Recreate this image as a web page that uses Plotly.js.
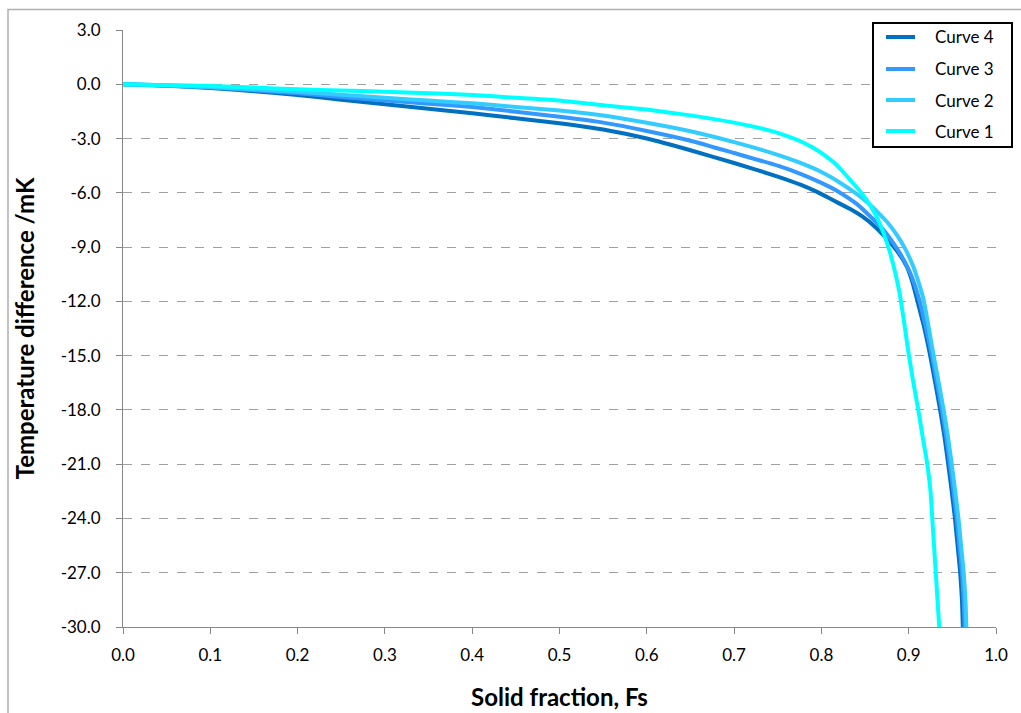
<!DOCTYPE html>
<html>
<head>
<meta charset="utf-8">
<script src="https://cdn.plot.ly/plotly-3.0.1.min.js"></script>
<style>
html,body{margin:0;padding:0;background:#fff;}
#chart{width:1021px;height:713px;}
</style>
</head>
<body>
<div id="chart"></div>
<script>
// ---- data ----
const curveNames = ['Curve 4', 'Curve 3', 'Curve 2', 'Curve 1'];
const curveColors = ['#0070C0', '#3399FF', '#33CCFF', '#00FFFF'];

const fs4 = [0, 0.05, 0.1, 0.15, 0.2, 0.25, 0.3, 0.35, 0.4, 0.45, 0.5, 0.55, 0.6, 0.65, 0.7, 0.75, 0.776, 0.795, 0.813, 0.833, 0.848, 0.862, 0.875, 0.888, 0.898, 0.904, 0.909, 0.917, 0.924, 0.930, 0.936, 0.941, 0.945, 0.949, 0.953, 0.956, 0.959, 0.961, 0.962];
const dT4 = [0, -0.08, -0.2, -0.38, -0.6, -0.85, -1.1, -1.35, -1.6, -1.88, -2.15, -2.5, -3.0, -3.65, -4.35, -5.1, -5.55, -5.95, -6.4, -6.9, -7.35, -7.9, -8.55, -9.3, -10.1, -10.9, -11.8, -13.3, -14.85, -16.4, -18.0, -19.5, -20.9, -22.4, -24.0, -25.5, -27.0, -28.5, -30.0];

const fs3 = [0, 0.05, 0.1, 0.15, 0.2, 0.25, 0.3, 0.35, 0.4, 0.45, 0.5, 0.55, 0.6, 0.65, 0.7, 0.75, 0.776, 0.8, 0.82, 0.84, 0.859, 0.871, 0.882, 0.892, 0.901, 0.907, 0.912, 0.919, 0.926, 0.932, 0.938, 0.943, 0.947, 0.951, 0.955, 0.958, 0.961, 0.963, 0.964];
const dT3 = [0, -0.07, -0.18, -0.33, -0.5, -0.7, -0.9, -1.07, -1.25, -1.52, -1.8, -2.12, -2.58, -3.12, -3.8, -4.5, -4.95, -5.45, -5.95, -6.6, -7.45, -8.05, -8.75, -9.5, -10.35, -11.1, -11.9, -13.3, -14.85, -16.4, -18.0, -19.5, -20.9, -22.4, -24.0, -25.5, -27.0, -28.5, -30.0];

const fs2 = [0, 0.05, 0.1, 0.15, 0.2, 0.25, 0.3, 0.35, 0.4, 0.45, 0.5, 0.55, 0.6, 0.65, 0.7, 0.75, 0.776, 0.8, 0.82, 0.84, 0.853, 0.864, 0.875, 0.886, 0.896, 0.905, 0.911, 0.917, 0.922, 0.928, 0.934, 0.94, 0.945, 0.949, 0.953, 0.957, 0.960, 0.963, 0.965, 0.966];
const dT2 = [0, -0.06, -0.15, -0.28, -0.42, -0.58, -0.75, -0.9, -1.05, -1.25, -1.45, -1.73, -2.13, -2.6, -3.2, -3.9, -4.35, -4.85, -5.4, -6.05, -6.55, -7.05, -7.6, -8.3, -9.1, -10.05, -10.9, -11.9, -13.2, -14.85, -16.4, -18.0, -19.5, -20.9, -22.4, -24.0, -25.5, -27.0, -28.5, -30.0];

const fs1 = [0, 0.05, 0.1, 0.15, 0.2, 0.25, 0.3, 0.35, 0.4, 0.45, 0.5, 0.55, 0.6, 0.65, 0.7, 0.74, 0.76, 0.776, 0.79, 0.803, 0.815, 0.825, 0.835, 0.845, 0.856, 0.864, 0.871, 0.878, 0.884, 0.889, 0.894, 0.899, 0.905, 0.911, 0.916, 0.921, 0.925, 0.927, 0.929, 0.931, 0.933, 0.935];
const dT1 = [0, -0.05, -0.1, -0.18, -0.28, -0.34, -0.41, -0.5, -0.59, -0.75, -0.9, -1.16, -1.4, -1.72, -2.12, -2.55, -2.85, -3.15, -3.5, -3.9, -4.35, -4.85, -5.4, -5.95, -6.7, -7.4, -8.2, -9.2, -10.3, -11.4, -12.9, -14.6, -16.4, -18.0, -19.5, -20.9, -22.5, -24.0, -25.5, -27.0, -28.5, -30.0];

const xTickVals = [0, 0.1, 0.2, 0.3, 0.4, 0.5, 0.6, 0.7, 0.8, 0.9, 1.0];
const xTickText = ['0.0', '0.1', '0.2', '0.3', '0.4', '0.5', '0.6', '0.7', '0.8', '0.9', '1.0'];
const yTickVals = [3, 0, -3, -6, -9, -12, -15, -18, -21, -24, -27, -30];
const yTickText = ['3.0', '0.0', '-3.0', '-6.0', '-9.0', '-12.0', '-15.0', '-18.0', '-21.0', '-24.0', '-27.0', '-30.0'];

const xTitle = 'Solid fraction, Fs';
const yTitle = 'Temperature difference /mK';

// ---- build ----
const xs = [fs4, fs3, fs2, fs1];
const ys = [dT4, dT3, dT2, dT1];
const traces = xs.map((x, i) => ({
  x: x, y: ys[i], name: curveNames[i], type: 'scatter', mode: 'lines',
  line: {color: curveColors[i], width: 4, shape: 'spline', smoothing: 0.5},
  showlegend: false
}));

const FONT = 'Lato, "Liberation Sans", sans-serif';
const L = 123, R = 996, T = 30, B = 627;
const px2x = p => (p - L) / (R - L);
const px2y = p => (B - p) / (B - T);

const shapes = [];
const annotations = [];
// outer chart border
shapes.push({type: 'rect', xref: 'paper', yref: 'paper',
  x0: px2x(8), x1: px2x(1040), y0: px2y(760), y1: px2y(9.5),
  line: {color: '#b0b0b0', width: 1.5}, fillcolor: 'rgba(0,0,0,0)', layer: 'below'});
// legend box
shapes.push({type: 'rect', xref: 'paper', yref: 'paper',
  x0: px2x(873), x1: px2x(1012), y0: px2y(147), y1: px2y(23),
  line: {color: '#000', width: 2}, fillcolor: '#fff'});
const rowY = [37, 69, 100, 131];
curveNames.forEach((n, i) => {
  shapes.push({type: 'line', xref: 'paper', yref: 'paper',
    x0: px2x(886), x1: px2x(915), y0: px2y(rowY[i]), y1: px2y(rowY[i]),
    line: {color: curveColors[i], width: 4}});
  annotations.push({xref: 'paper', yref: 'paper', x: px2x(933), y: px2y(rowY[i]),
    xanchor: 'left', yanchor: 'middle', text: n, showarrow: false,
    font: {family: FONT, size: 17, color: '#000'}});
});

const layout = {
  width: 1021, height: 713,
  margin: {l: L, r: 1021 - R, t: T, b: 713 - B},
  paper_bgcolor: '#fff', plot_bgcolor: '#fff',
  font: {family: FONT, size: 17, color: '#000'},
  showlegend: false,
  xaxis: {
    range: [0, 1], tickvals: xTickVals, ticktext: xTickText,
    ticks: 'outside', ticklen: 6, tickcolor: '#888', tickwidth: 1,
    showline: true, linecolor: '#888', linewidth: 1,
    showgrid: false, zeroline: false, ticklabelstandoff: 7,
    tickfont: {family: FONT, size: 17, color: '#000'},
    title: {text: xTitle, standoff: 24, font: {family: FONT, size: 24, color: '#000', weight: 'bold'}}
  },
  yaxis: {
    range: [-30, 3], tickvals: yTickVals, ticktext: yTickText,
    ticks: 'outside', ticklen: 6, tickcolor: '#888', tickwidth: 1,
    showline: true, linecolor: '#888', linewidth: 1,
    showgrid: true, gridcolor: '#a0a0a0', griddash: 'dash', gridwidth: 1,
    zeroline: false, ticklabelstandoff: 12,
    tickfont: {family: FONT, size: 17, color: '#000'},
    title: {text: yTitle, standoff: 19, font: {family: FONT, size: 24, color: '#000', weight: 'bold'}}
  },
  shapes: shapes,
  annotations: annotations
};

Plotly.newPlot('chart', traces, layout, {displayModeBar: false, staticPlot: true});
</script>
</body>
</html>
